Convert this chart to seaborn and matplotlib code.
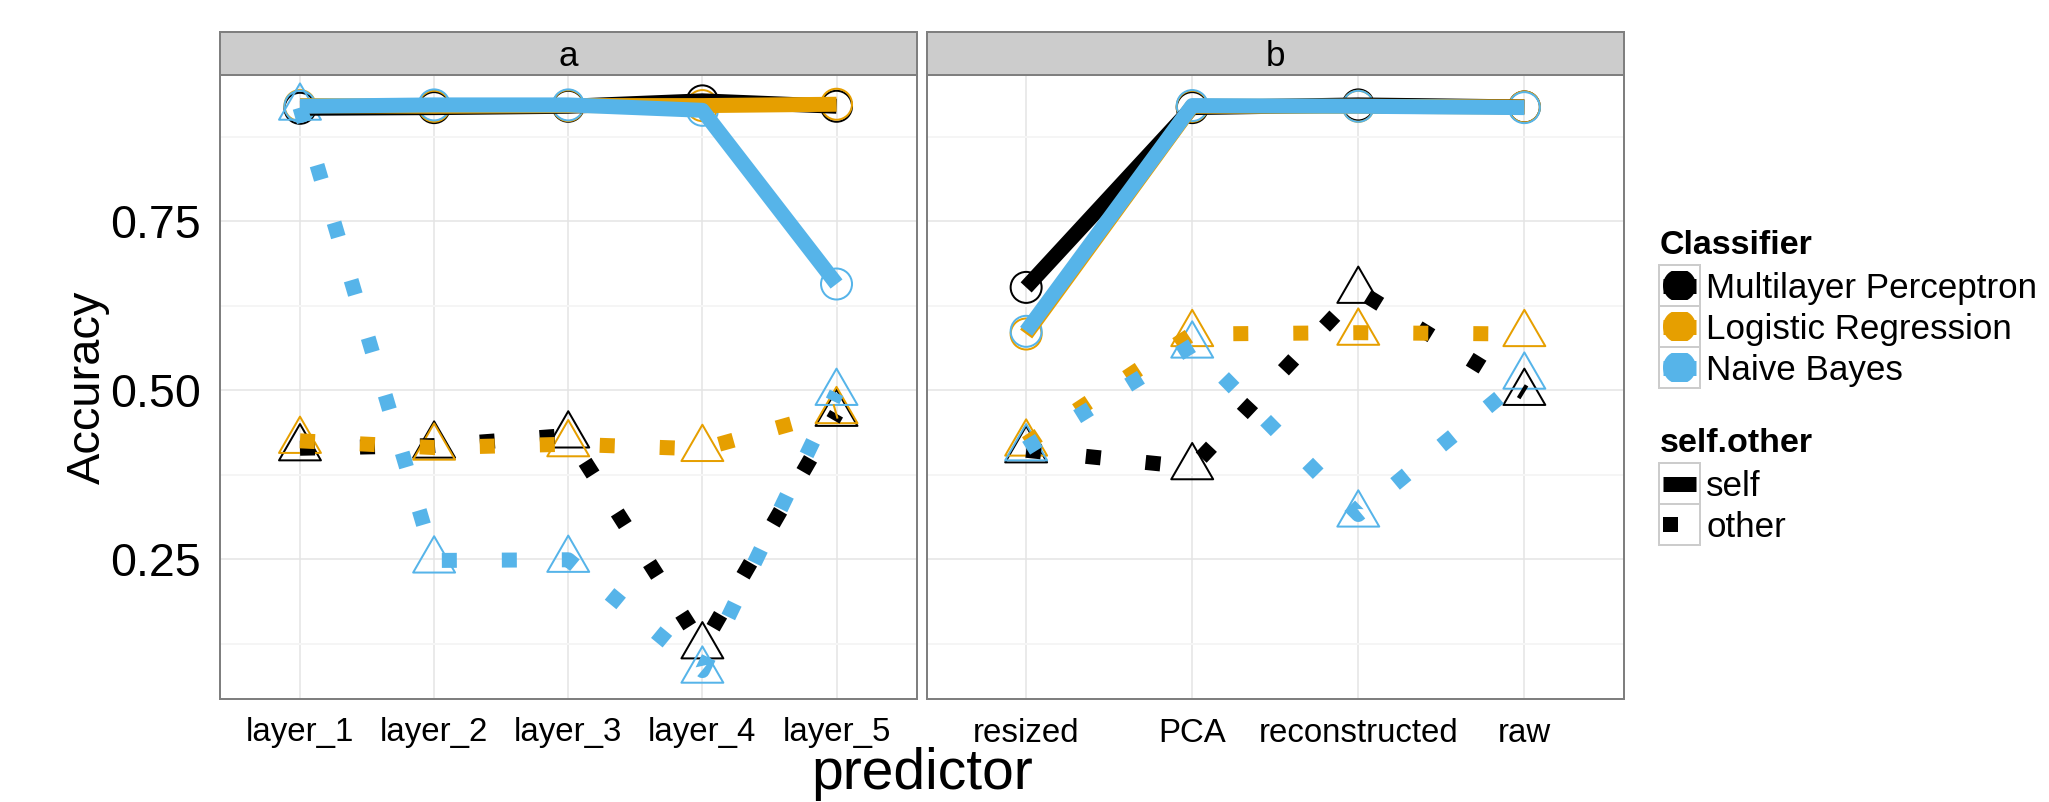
import numpy as np
import pandas as pd
import matplotlib
matplotlib.use("Agg")
import matplotlib.pyplot as plt
import seaborn as sns
from matplotlib.path import Path
from matplotlib.patches import Rectangle, Circle
from matplotlib.ticker import FixedLocator

# ---------------- data ----------------
classifiers = ["Multilayer Perceptron", "Logistic Regression", "Naive Bayes"]
self_other = ["self", "other"]
facets = ["a", "b"]
predictors_a = ["layer_1", "layer_2", "layer_3", "layer_4", "layer_5"]
predictors_b = ["resized", "PCA", "reconstructed", "raw"]
y_ticks = [0.25, 0.50, 0.75]
y_tick_labels = ["0.25", "0.50", "0.75"]

# facet a
a_mlp_self = [0.917, 0.918, 0.920, 0.928, 0.920]
a_lr_self = [0.921, 0.920, 0.921, 0.921, 0.923]
a_nb_self = [0.920, 0.922, 0.922, 0.914, 0.657]
a_mlp_other = [0.414, 0.418, 0.433, 0.121, 0.465]
a_lr_other = [0.425, 0.415, 0.420, 0.413, 0.469]
a_nb_other = [0.918, 0.248, 0.249, 0.085, 0.496]
# facet b
b_mlp_self = [0.652, 0.918, 0.922, 0.919]
b_lr_self = [0.583, 0.920, 0.920, 0.919]
b_nb_self = [0.587, 0.921, 0.920, 0.918]
b_mlp_other = [0.411, 0.386, 0.647, 0.496]
b_lr_other = [0.421, 0.583, 0.585, 0.583]
b_nb_other = [0.414, 0.566, 0.316, 0.520]

palette = ["#000000", "#E69F00", "#56B4E9"]

series = {
    ("a", "Multilayer Perceptron", "self"): a_mlp_self,
    ("a", "Multilayer Perceptron", "other"): a_mlp_other,
    ("a", "Logistic Regression", "self"): a_lr_self,
    ("a", "Logistic Regression", "other"): a_lr_other,
    ("a", "Naive Bayes", "self"): a_nb_self,
    ("a", "Naive Bayes", "other"): a_nb_other,
    ("b", "Multilayer Perceptron", "self"): b_mlp_self,
    ("b", "Multilayer Perceptron", "other"): b_mlp_other,
    ("b", "Logistic Regression", "self"): b_lr_self,
    ("b", "Logistic Regression", "other"): b_lr_other,
    ("b", "Naive Bayes", "self"): b_nb_self,
    ("b", "Naive Bayes", "other"): b_nb_other,
}
preds = {"a": predictors_a, "b": predictors_b}
rows = []
for (f, c, so), vals in series.items():
    for p, v in zip(preds[f], vals):
        rows.append({"facet": f, "Classifier": c, "self.other": so,
                     "predictor": p, "Accuracy": v})
df = pd.DataFrame(rows)

# ---------------- figure ----------------
sns.set_style("white")
plt.rcParams["font.family"] = ["Liberation Sans", "DejaVu Sans"]
plt.rcParams["text.color"] = "black"
plt.rcParams["axes.labelcolor"] = "black"
plt.rcParams["xtick.color"] = "black"
plt.rcParams["ytick.color"] = "black"

W, H = 2049, 802
fig = plt.figure(figsize=(W / 100, H / 100), dpi=100)


def rect(x0, y0, x1, y1):
    return [x0 / W, 1 - y1 / H, (x1 - x0) / W, (y1 - y0) / H]


PX = 0.72  # points per pixel at 100 dpi
tri = Path([(0, 1), (-0.8660254, -0.5), (0.8660254, -0.5), (0, 1)],
           [Path.MOVETO, Path.LINETO, Path.LINETO, Path.CLOSEPOLY])

panel_px = {"a": (219.5, 917.0), "b": (926.5, 1624.0)}
top_strip, top_panel, bottom_panel = 32.0, 74.5, 699.0

for f in facets:
    x0, x1 = panel_px[f]
    ax = fig.add_axes(rect(x0, top_panel, x1, bottom_panel))
    sub = df[df["facet"] == f]
    n = len(preds[f])

    sns.scatterplot(data=sub, x="predictor", y="Accuracy",
                    hue="Classifier", hue_order=classifiers, palette=palette,
                    style="self.other", style_order=self_other,
                    markers={"self": "o", "other": tri},
                    size="self.other", size_order=self_other,
                    sizes={"self": (31 * PX) ** 2, "other": (48.4 * PX) ** 2},
                    linewidth=2.0 * PX, legend=False, ax=ax, zorder=2)
    pc = ax.collections[-1]
    fcs = pc.get_facecolors()
    pc.set_edgecolors(fcs)
    pc.set_facecolors("none")

    sns.lineplot(data=sub, x="predictor", y="Accuracy",
                 hue="Classifier", hue_order=classifiers, palette=palette,
                 style="self.other", style_order=self_other,
                 dashes={"self": "", "other": (1, 3)},
                 linewidth=15 * PX, estimator=None, sort=False,
                 legend=False, ax=ax, zorder=3,
                 solid_capstyle="butt", dash_capstyle="butt",
                 solid_joinstyle="round")

    ax.set_xlim(-0.6, n - 1 + 0.6)
    ax.set_ylim(0.043, 0.967)
    ax.set_xlabel("")
    ax.set_ylabel("")
    ax.set_yticks(y_ticks)
    ax.yaxis.set_minor_locator(FixedLocator([0.125, 0.375, 0.625, 0.875]))
    ax.set_axisbelow(True)
    ax.grid(which="major", color="#e5e5e5", linewidth=1.6 * PX)
    ax.grid(which="minor", axis="y", color="#f5f5f5", linewidth=2.0 * PX)
    ax.tick_params(which="minor", length=0)
    ax.tick_params(axis="x", which="major", length=10.5 * PX, width=2 * PX,
                   color="#333333", pad=8 * PX, labelsize=33 * PX,
                   labelcolor="black")
    if f == "a":
        ax.set_yticklabels(y_tick_labels)
        ax.tick_params(axis="y", which="major", length=10.5 * PX,
                       width=2 * PX, color="#333333", pad=8 * PX,
                       labelsize=46.5 * PX, labelcolor="black")
    else:
        ax.tick_params(axis="y", which="major", length=0, labelleft=False)
    for s in ax.spines.values():
        s.set_color("#7f7f7f")
        s.set_linewidth(2 * PX)
        s.set_visible(True)

    # strip
    sax = fig.add_axes(rect(x0, top_strip, x1, top_panel))
    sax.set_facecolor("#cccccc")
    sax.set_xticks([])
    sax.set_yticks([])
    for s in sax.spines.values():
        s.set_color("#7f7f7f")
        s.set_linewidth(2 * PX)
        s.set_visible(True)
    sax.text(0.5, 0.5, f, transform=sax.transAxes, ha="center",
             va="center_baseline", fontsize=35 * PX, color="black")

# axis titles
fig.text(87.5 / W, 1 - 387 / H, "Accuracy", rotation=90, ha="center",
         va="center", fontsize=47 * PX, color="black")
fig.text(922 / W, 1 - 789.3 / H, "predictor", ha="center", va="baseline",
         fontsize=57 * PX, color="black")

# ---------------- legend (pixel coordinates) ----------------
lax = fig.add_axes([0, 0, 1, 1], zorder=5)
lax.set_xlim(0, W)
lax.set_ylim(H, 0)
lax.axis("off")
lax.patch.set_alpha(0)

fs_leg = 35 * PX
lax.text(1660, 254, "Classifier", fontsize=34 * PX, fontweight="bold",
         va="baseline", ha="left", color="black")
for i, (c, col) in enumerate(zip(classifiers, palette)):
    ky = 265 + 41 * i
    lax.add_patch(Rectangle((1659, ky), 41, 41, fc="white", ec="#cccccc",
                            lw=2 * PX))
    cy = ky + 20.5
    circ = Circle((1679.5, cy), 16.5, fc=col, ec="none")
    lax.add_patch(circ)
    clip = Rectangle((1655, cy - 14.8), 50, 29.6, transform=lax.transData)
    circ.set_clip_path(clip)
    lax.plot([1663, 1696], [cy, cy], color=col, lw=15 * PX,
             solid_capstyle="butt")
    lax.text(1706, ky + 33.3, c, fontsize=fs_leg, va="baseline", ha="left",
             color="black")

lax.text(1660, 452, "self.other", fontsize=34 * PX, fontweight="bold",
         va="baseline", ha="left", color="black")
for i, so in enumerate(self_other):
    ky = 463 + 41 * i
    lax.add_patch(Rectangle((1659, ky), 41, 41, fc="white", ec="#cccccc",
                            lw=2 * PX))
    cy = ky + 20.5
    if so == "self":
        lax.plot([1663, 1696], [cy, cy], color="black", lw=15 * PX,
                 solid_capstyle="butt")
    else:
        lax.add_patch(Rectangle((1663, cy - 7.5), 15, 15, fc="black",
                                ec="none"))
    lax.text(1706, ky + 33, so, fontsize=fs_leg, va="baseline", ha="left",
             color="black")

fig.savefig("out.png", dpi=100)
